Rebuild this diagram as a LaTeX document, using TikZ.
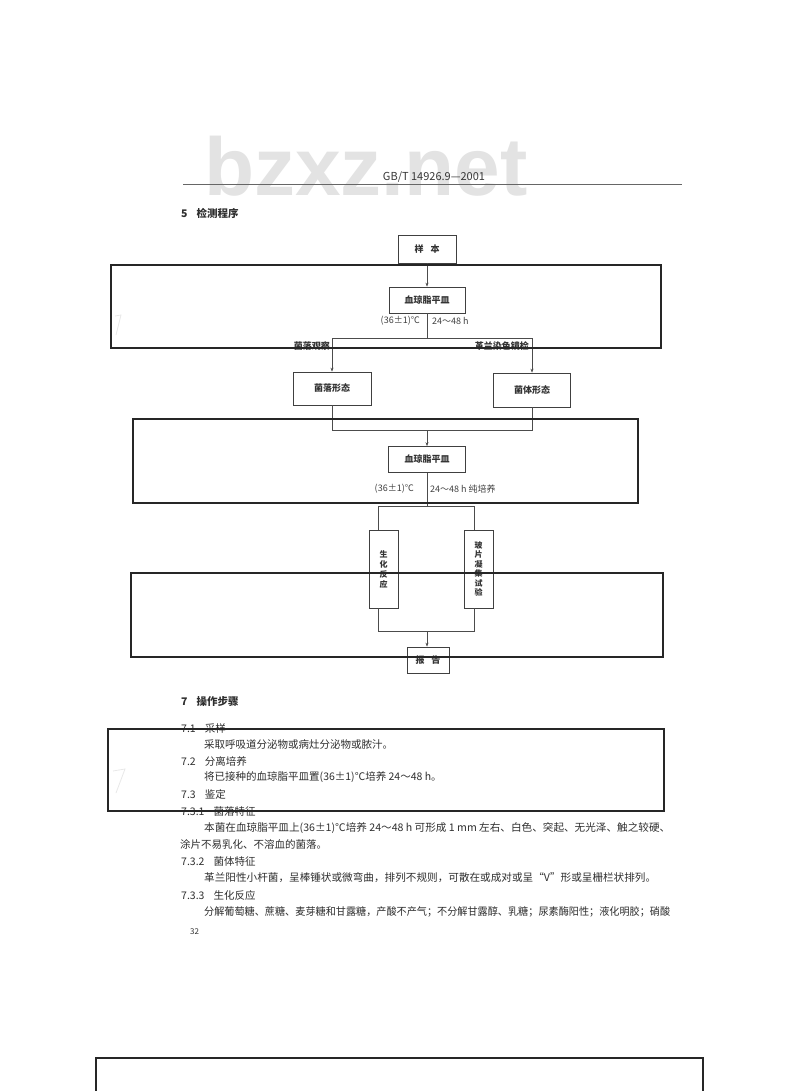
\documentclass[tikz,border=0pt]{standalone}
\usepackage{graphicx}
\usepackage{fontspec}
\setmainfont{Noto Sans CJK SC}
\newfontfamily\wmfont{Liberation Sans}
\usetikzlibrary{arrows.meta}
\begin{document}
\begin{tikzpicture}[x=1pt,y=-1pt,
  frame/.style={draw=black!85,line width=1.2pt},
  fbox/.style={draw=black!75,line width=0.7pt,inner sep=0pt,font=\fontsize{9}{11}\selectfont\bfseries,text=black!80},
  vbox/.style={fbox,align=center,font=\fontsize{8}{10}\selectfont\bfseries},
  link/.style={draw=black!70,line width=0.6pt},
  arr/.style={link,-{Stealth[length=4pt,width=3pt]}},
  cond/.style={inner sep=0pt,font=\fontsize{9}{11}\selectfont,text=black!75},
  lab/.style={inner sep=0pt,font=\fontsize{9}{11}\selectfont\bfseries,text=black!80},
  body/.style={anchor=west,inner sep=0pt,font=\fontsize{10.5}{12}\selectfont,text=black!82},
  head/.style={body,font=\fontsize{10.5}{12}\selectfont\bfseries},
  faint/.style={draw=black!9,line width=0.8pt}
]
\fill[white] (0,0) rectangle (800,1091);
\useasboundingbox (0,0) rectangle (800,1091);

% watermark and running head
\node[anchor=base west,inner sep=0pt,text depth=0pt,text=black!11,font=\wmfont\bfseries\fontsize{82}{82}\selectfont] (wm) at (204,196) {bzxz.net};
\node[inner sep=0pt,font=\fontsize{11}{13}\selectfont,text=black!78] (hdr) at (434,177) {GB/T 14926.9—2001};
\draw[black!60,line width=0.7pt] (183,184) -- (682,184);

\node[head] (s5) at (181,213) {5\hspace{9pt}检测程序};

% flowchart
\node[fbox,minimum width=58pt,minimum height=28pt] (sample) at (427,249) {样\hspace{7pt}本};
\node[fbox,minimum width=76pt,minimum height=26pt] (plate1) at (427,300) {血琼脂平皿};
\draw[arr] (sample.south) -- (plate1.north);
\node[cond,anchor=east] (c1a) at (420,321) {(36±1)℃};
\node[cond,anchor=west] (c1b) at (432,321) {24～48 h};

\coordinate (j1) at (427,338);
\coordinate (j1l) at (332,338);
\coordinate (j1r) at (532,338);
\draw[link] (plate1.south) -- (j1);
\draw[link] (j1l) -- (j1r);
\node[lab,anchor=east] (obs1) at (330,346) {菌落观察};
\node[lab,anchor=east] (obs2) at (529,346) {革兰染色镜检};

\node[fbox,minimum width=78pt,minimum height=33pt] (colony) at (332,388.5) {菌落形态};
\node[fbox,minimum width=77pt,minimum height=34pt] (cell) at (532,390) {菌体形态};
\draw[arr] (j1l) -- (colony.north);
\draw[arr] (j1r) -- (cell.north);

\coordinate (j2l) at (332,430);
\coordinate (j2r) at (532,430);
\coordinate (j2) at (427,430);
\draw[link] (colony.south) -- (j2l) -- (j2r) -- (cell.south);
\node[fbox,minimum width=77pt,minimum height=26pt] (plate2) at (427,459.5) {血琼脂平皿};
\draw[arr] (j2) -- (plate2.north);
\node[cond,anchor=east] (c2a) at (414,489) {(36±1)℃};
\node[cond,anchor=west] (c2b) at (430,489) {24～48 h 纯培养};

\coordinate (j3) at (427,506);
\coordinate (j3l) at (378,506);
\coordinate (j3r) at (474,506);
\draw[link] (plate2.south) -- (j3);
\draw[link] (j3l) -- (j3r);
\node[vbox,minimum width=29pt,minimum height=78pt] (bio) at (383.5,569) {生\\化\\反\\应};
\node[vbox,minimum width=29pt,minimum height=78pt,font=\fontsize{8}{9.5}\selectfont\bfseries] (slide) at (478.5,569) {玻\\片\\凝\\集\\试\\验};
\draw[link] (j3l) -- (j3l |- bio.north);
\draw[link] (j3r) -- (j3r |- slide.north);

\coordinate (j4l) at (378,631);
\coordinate (j4r) at (474,631);
\coordinate (j4) at (427,631);
\draw[link] (j4l |- bio.south) -- (j4l) -- (j4r) -- (j4r |- slide.south);
\node[fbox,minimum width=42pt,minimum height=26pt] (report) at (428,660) {报\hspace{7pt}告};
\draw[arr] (j4) -- (j4 |- report.north);

% text block
\node[head] (s7) at (181,702) {7\hspace{9pt}操作步骤};
\node[body] (s71) at (181,728) {7.1\hspace{9pt}采样};
\node[body] (t1) at (204,744) {采取呼吸道分泌物或病灶分泌物或脓汁。};
\node[body] (s72) at (181,761) {7.2\hspace{9pt}分离培养};
\node[body] (t2) at (204,777) {将已接种的血琼脂平皿置(36±1)℃培养 24～48 h。};
\node[body] (s73) at (181,794) {7.3\hspace{9pt}鉴定};
\node[body] (s731) at (181,812) {7.3.1\hspace{9pt}菌落特征};
\node[body] (t3) at (204,828) {\resizebox{466pt}{\height}{本菌在血琼脂平皿上(36±1)℃培养 24～48 h 可形成 1 mm 左右、白色、突起、无光泽、触之较硬、}};
\node[body] (t3b) at (180,844) {涂片不易乳化、不溶血的菌落。};
\node[body] (s732) at (181,861) {7.3.2\hspace{9pt}菌体特征};
\node[body] (t4) at (204,878) {\resizebox{452pt}{\height}{革兰阳性小杆菌，呈棒锤状或微弯曲，排列不规则，可散在或成对或呈“V”形或呈栅栏状排列。}};
\node[body] (s733) at (181,895) {7.3.3\hspace{9pt}生化反应};
\node[body] (t5) at (204,912) {\resizebox{466pt}{\height}{分解葡萄糖、蔗糖、麦芽糖和甘露糖，产酸不产气；不分解甘露醇、乳糖；尿素酶阳性；液化明胶；硝酸}};
\node[body,font=\fontsize{8}{9}\selectfont] (pg) at (190,932) {32};

% faint scan marks
\draw[faint] (115,316) -- (121,315) -- (116,335);
\draw[faint] (113,771) -- (125,769) -- (116,793);

% overlay frames
\draw[frame] (111,265) rectangle (661,348);
\draw[frame] (133,419) rectangle (638,503);
\draw[frame] (131,573) rectangle (663,657);
\draw[frame] (108,729) rectangle (664,811);
\draw[frame] (96,1095) -- (96,1058) -- (703,1058) -- (703,1095);
\end{tikzpicture}
\end{document}
